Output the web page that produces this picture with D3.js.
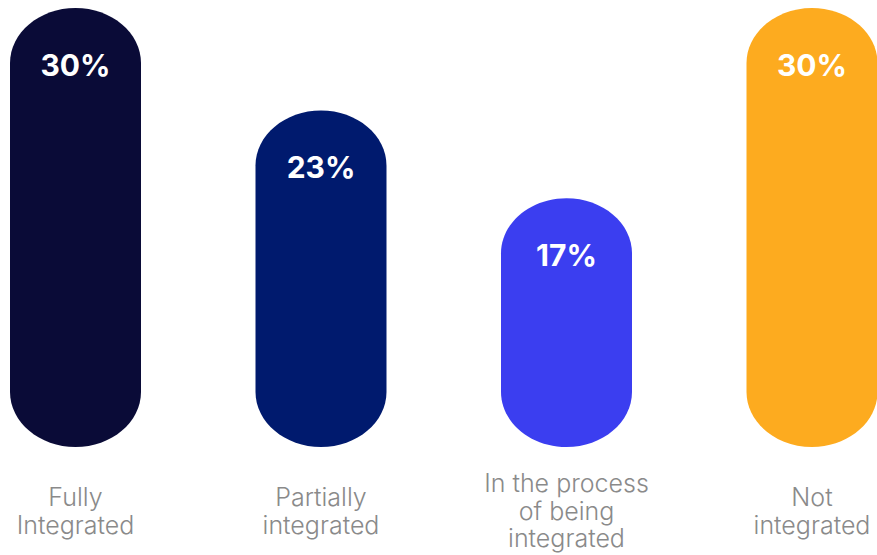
<!DOCTYPE html>
<html>
<head>
<meta charset="utf-8">
<script src="https://cdn.jsdelivr.net/npm/d3@7"></script>
<style>
  html, body { margin: 0; padding: 0; background: #ffffff; overflow: hidden; }
  svg { display: block; }
</style>
</head>
<body>
<svg id="chart" width="877" height="555"></svg>
<script>
// Share of organisations by integration status
const categories = ["Fully Integrated", "Partially integrated", "In the process of being integrated", "Not integrated"];
const labelLines = [["Fully", "Integrated"], ["Partially", "integrated"], ["In the process", "of being", "integrated"], ["Not", "integrated"]];
const values = [30, 23, 17, 30];
const colors = ["#0a0b37", "#001a6e", "#3b3ef0", "#fdab1f"];

const width = 877, height = 555;
const baseY = 447, topY = 8;

const svg = d3.select("#chart");

const x = d3.scaleBand()
  .domain(categories)
  .range([10, 877.5])
  .paddingInner(0.4664)
  .paddingOuter(0);

const y = d3.scaleLinear()
  .domain([0, 30])
  .range([baseY, topY]);

// pill shape: elliptical caps top and bottom
function pill(x0, y0, w, h) {
  const rx = w / 2;
  const ry = Math.min(55, h / 2);
  const p = d3.path();
  p.moveTo(x0, y0 + ry);
  p.bezierCurveTo(x0, y0 + ry * 0.45, x0 + rx * 0.45, y0, x0 + rx, y0);
  p.bezierCurveTo(x0 + w - rx * 0.45, y0, x0 + w, y0 + ry * 0.45, x0 + w, y0 + ry);
  p.lineTo(x0 + w, y0 + h - ry);
  p.bezierCurveTo(x0 + w, y0 + h - ry * 0.45, x0 + w - rx * 0.45, y0 + h, x0 + rx, y0 + h);
  p.bezierCurveTo(x0 + rx * 0.45, y0 + h, x0, y0 + h - ry * 0.45, x0, y0 + h - ry);
  p.closePath();
  return p.toString();
}

const data = categories.map((c, i) => ({ cat: c, value: values[i], color: colors[i], lines: labelLines[i] }));

const g = svg.selectAll("g.bar").data(data).join("g").attr("class", "bar");

g.append("path")
  .attr("d", d => pill(x(d.cat), y(d.value), x.bandwidth(), baseY - y(d.value)))
  .attr("fill", d => d.color);

g.append("text")
  .attr("x", d => x(d.cat) + x.bandwidth() / 2)
  .attr("y", d => y(d.value) + 68)
  .attr("text-anchor", "middle")
  .attr("fill", "#ffffff")
  .style("font-family", "Inter, 'Noto Sans', sans-serif")
  .style("font-weight", 700)
  .style("font-size", "30px")
  .text(d => d.value + "%");

g.append("text")
  .attr("text-anchor", "middle")
  .attr("fill", "#8a8a8a")
  .style("font-family", "Inter, 'Noto Sans', sans-serif")
  .style("font-weight", 300)
  .style("font-size", "25px")
  .each(function(d) {
    const n = d.lines.length;
    const cx = x(d.cat) + x.bandwidth() / 2;
    const firstBaseline = n === 3 ? 492 : 506;
    d3.select(this).selectAll("tspan").data(d.lines).join("tspan")
      .attr("x", cx)
      .attr("y", (l, j) => firstBaseline + j * 27.5)
      .text(l => l);
  });
</script>
</body>
</html>
